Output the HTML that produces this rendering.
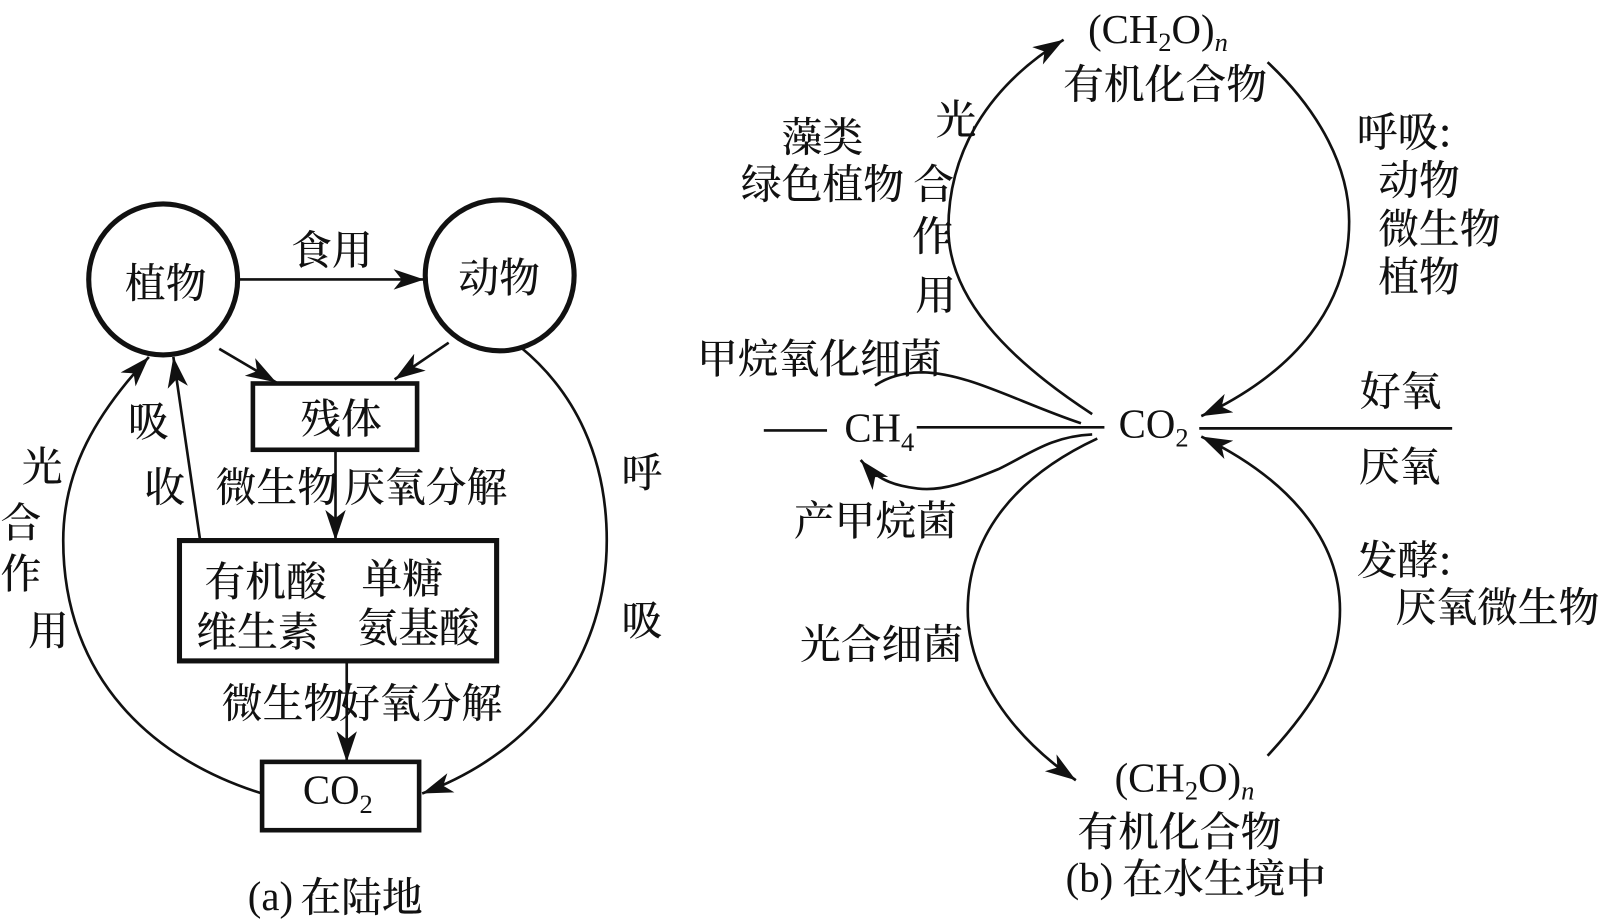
<!DOCTYPE html>
<html lang="zh">
<head>
<meta charset="utf-8">
<title>Carbon cycle</title>
<style>
html,body{margin:0;padding:0;background:#fff;width:1599px;height:922px;overflow:hidden}
svg{display:block}
text{font-family:"Noto Serif CJK SC","Liberation Serif",serif;font-size:40px;fill:#111;font-weight:500}
.l{font-family:"Liberation Serif","Noto Serif CJK SC",serif;font-weight:400}
.c{fill:#fff;stroke:#111}
.a{fill:none;stroke:#111;stroke-width:2.6;marker-end:url(#h)}
.p{fill:none;stroke:#111;stroke-width:2.6}
</style>
</head>
<body>
<svg width="1599" height="922" viewBox="0 0 1568 904" preserveAspectRatio="none" xmlns="http://www.w3.org/2000/svg">
<defs>
<marker id="h" markerUnits="userSpaceOnUse" markerWidth="34" markerHeight="26" refX="30" refY="13" orient="auto">
<path d="M0 3 L30 13 L0 23 L8 13 Z" fill="#111"/>
</marker>
</defs>
<rect width="1568" height="904" fill="#fff"/>

<!-- (a) shapes -->
<ellipse class="c" cx="160" cy="274" rx="73" ry="74" stroke-width="5"/>
<ellipse class="c" cx="490" cy="270" rx="73" ry="74" stroke-width="5"/>
<path class="a" d="M232 274H416"/>
<path class="a" d="M215 342L271 375"/>
<path class="a" d="M440 336L387 372"/>
<path class="a" d="M329 441V530"/>
<path class="a" d="M340 648V747"/>
<path class="a" d="M196 528L170 350"/>
<path class="a" d="M257 778C150 745 62 665 62 530C62 460 95 405 146 350"/>
<path class="a" d="M510 340C565 385 595 450 595 530C595 640 530 735 414 778"/>
<rect class="c" x="248" y="376" width="161" height="65" stroke-width="4.5"/>
<rect class="c" x="176" y="530" width="311" height="118" stroke-width="5"/>
<rect class="c" x="257" y="747" width="154" height="67" stroke-width="4.5"/>

<!-- (b) shapes -->
<path class="a" d="M1071 406C985 350 930 290 930 224C930 150 968 85 1043 39"/>
<path class="a" d="M1243 61C1295 110 1323 165 1323 217C1323 300 1270 365 1178 408"/>
<path class="a" d="M1076 430C990 470 949 530 949 598C949 660 990 720 1055 765"/>
<path class="a" d="M1243 741C1290 690 1314 650 1314 598C1314 530 1265 470 1178 428"/>
<path class="p" d="M1060 415C1000 395 950 366 905 365C885 365 870 370 858 378"/>
<path class="a" d="M1071 426C1030 428 1010 445 979 460C950 472 925 482 900 479C875 476 860 470 844 451"/>
<path class="p" d="M749 422H811"/>
<path class="p" d="M899 419H1083"/>
<path class="p" stroke-width="3" d="M1176 420H1424"/>

<!-- Latin labels -->
<text class="l" x="297" y="788">CO<tspan font-size="26" dy="9">2</tspan></text>
<text class="l" x="243" y="892">(a) </text>
<text class="l" x="1067" y="42">(CH<tspan font-size="26" dy="8">2</tspan><tspan dy="-8">O)</tspan><tspan font-size="26" font-style="italic" dy="8">n</tspan></text>
<text class="l" x="828" y="433">CH<tspan font-size="26" dy="9">4</tspan></text>
<text class="l" x="1097" y="429">CO<tspan font-size="26" dy="9">2</tspan></text>
<text class="l" x="1093" y="776">(CH<tspan font-size="26" dy="8">2</tspan><tspan dy="-8">O)</tspan><tspan font-size="26" font-style="italic" dy="8">n</tspan></text>
<text class="l" x="1045" y="874">(b) </text>

<!-- CJK labels -->
<g transform="translate(-0.5 1.5)">
<text x="286" y="258">食用</text>
<text x="123" y="290">植物</text>
<text x="450" y="285">动物</text>
<text x="295" y="423">残体</text>
<text x="126" y="426">吸</text>
<text x="142" y="490">收</text>
<text x="22" y="470">光</text>
<text x="1" y="525">合</text>
<text x="1" y="575">作</text>
<text x="28" y="631">用</text>
<text x="610" y="476">呼</text>
<text x="610" y="621">吸</text>
<text x="212" y="490">微生物</text>
<text x="338" y="490">厌氧分解</text>
<text x="201" y="583">有机酸</text>
<text x="355" y="580">单糖</text>
<text x="193" y="632">维生素</text>
<text x="351" y="628">氨基酸</text>
<text x="218" y="702">微生物</text>
<text x="333" y="702">好氧分解</text>
<text x="295" y="892">在陆地</text>

<text x="1043" y="95">有机化合物</text>
<text x="767" y="147">藻类</text>
<text x="727" y="193">绿色植物</text>
<text x="918" y="130">光</text>
<text x="896" y="193">合</text>
<text x="895" y="244">作</text>
<text x="898" y="302">用</text>
<text x="1331" y="142">呼吸:</text>
<text x="1352" y="189">动物</text>
<text x="1352" y="237">微生物</text>
<text x="1352" y="284">植物</text>
<text x="684" y="364">甲烷氧化细菌</text>
<text x="1334" y="396">好氧</text>
<text x="1333" y="470">厌氧</text>
<text x="779" y="523">产甲烷菌</text>
<text x="785" y="644">光合细菌</text>
<text x="1331" y="562">发酵:</text>
<text x="1369" y="608">厌氧微生物</text>
<text x="1057" y="828">有机化合物</text>
<text x="1101" y="874">在水生境中</text>
</g>
</svg>
</body>
</html>
